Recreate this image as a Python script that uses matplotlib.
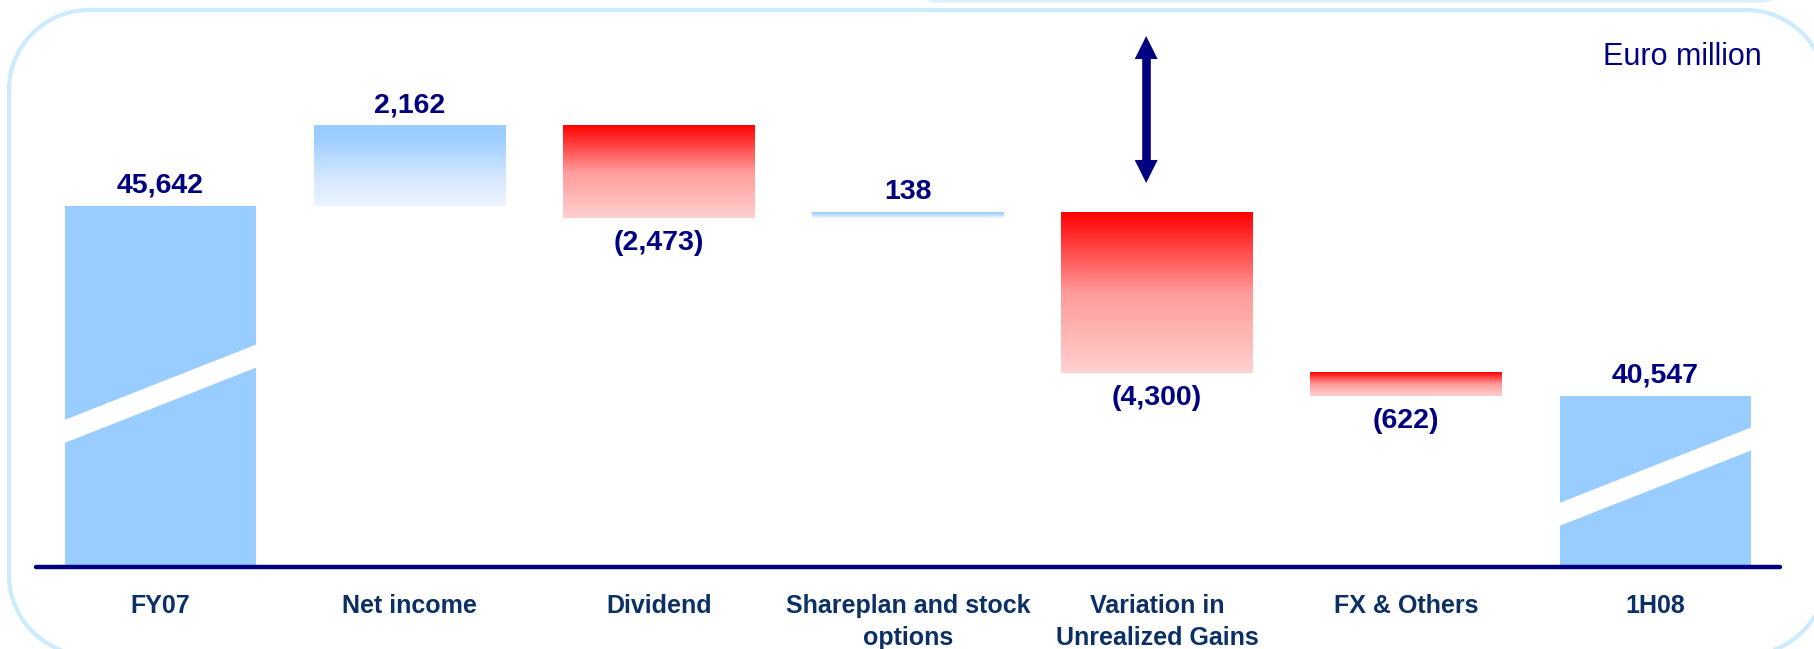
import numpy as np
import matplotlib.pyplot as plt
from matplotlib.colors import LinearSegmentedColormap
from matplotlib.patches import FancyBboxPatch, Polygon
from matplotlib.transforms import IdentityTransform

# data (Euro million)
categories = ['FY07', 'Net income', 'Dividend', 'Shareplan and stock\noptions',
              'Variation in\nUnrealized Gains', 'FX & Others', '1H08']
start_total = 45642
changes = [2162, -2473, 138, -4300, -622]
end_total = 40547
value_labels = ['45,642', '2,162', '(2,473)', '138', '(4,300)', '(622)', '40,547']

plt.rcParams['font.family'] = ['Liberation Sans', 'DejaVu Sans']

W, H = 1815, 649
fig = plt.figure(figsize=(W / 100, H / 100), dpi=100)
ax = fig.add_axes([36 / W, 1 - 567 / H, (1780 - 36) / W, (567 - 20) / H])
ax.patch.set_alpha(0)

navy = '#000080'
label_navy = '#0B3066'
light_blue = '#99CCFF'
bw = 0.77

blue_grad = LinearSegmentedColormap.from_list(
    'bg', [(0, '#99CCFF'), (0.18, '#9FCEFF'), (0.6, '#CFE5FF'), (1, '#EEF5FF')])
red_grad = LinearSegmentedColormap.from_list(
    'rg', [(0, '#FF0000'), (0.5, '#FF9A9A'), (1, '#FFD0D0')])
col = np.linspace(0, 1, 256).reshape(-1, 1)


def grad_bar(x, y0, y1, cmap):
    lo, hi = min(y0, y1), max(y0, y1)
    ax.imshow(col, extent=[x - bw / 2, x + bw / 2, lo, hi], origin='upper',
              cmap=cmap, aspect='auto', interpolation='bilinear', zorder=2)


# totals (broken bars starting from zero)
n = len(categories)
ax.bar(0, start_total, width=bw, color=light_blue, zorder=2)
ax.bar(n - 1, end_total, width=bw, color=light_blue, zorder=2)

level = start_total
tops, bottoms = [start_total], [0]
for i, d in enumerate(changes, start=1):
    new = level + d
    grad_bar(i, level, new, blue_grad if d > 0 else red_grad)
    tops.append(max(level, new))
    bottoms.append(min(level, new))
    level = new
tops.append(end_total)
bottoms.append(0)

# white break stripes across the total bars
rise, thick = 2078, 617
for x, c in [(0, 39570), (n - 1, 37344)]:
    l, r = x - bw / 2 - 0.01, x + bw / 2 + 0.01
    ax.add_patch(Polygon([(l, c - thick / 2), (r, c - thick / 2 + rise),
                          (r, c + thick / 2 + rise), (l, c + thick / 2)],
                         closed=True, facecolor='white', edgecolor='none', zorder=3))

# value labels
signs = [1] + [1 if d > 0 else -1 for d in changes] + [1]
for i, (lab, s) in enumerate(zip(value_labels, signs)):
    if s > 0:
        ax.annotate(lab, (i, tops[i]), xytext=(0, 14.5), textcoords='offset points',
                    ha='center', va='center', fontsize=20.5, fontweight='bold', color=navy)
    else:
        ax.annotate(lab, (i, bottoms[i]), xytext=(0, -18), textcoords='offset points',
                    ha='center', va='center', fontsize=20.5, fontweight='bold', color=navy)

# double arrow above the unrealized gains bar
ax_x, a_top, a_bot = 3.956, 50200, 46259
head_len, head_hw = 617, 0.046
ax.plot([ax_x, ax_x], [a_top - head_len + 40, a_bot + head_len - 40], color=navy,
        lw=6.2, solid_capstyle='butt', zorder=4)
ax.add_patch(Polygon([(ax_x, a_top), (ax_x - head_hw, a_top - head_len),
                      (ax_x + head_hw, a_top - head_len)],
                     closed=True, facecolor=navy, edgecolor='none', zorder=4))
ax.add_patch(Polygon([(ax_x, a_bot), (ax_x - head_hw, a_bot + head_len),
                      (ax_x + head_hw, a_bot + head_len)],
                     closed=True, facecolor=navy, edgecolor='none', zorder=4))

ax.set_xlim(-0.5, n - 0.5)
ax.set_ylim(35960, 50630)
ax.set_xticks(range(n))
ax.set_xticklabels(categories, fontsize=18, fontweight='bold', color=label_navy,
                   linespacing=1.4)
ax.tick_params(axis='x', length=0, pad=19.5)
ax.set_yticks([])
for s in ['top', 'left', 'right']:
    ax.spines[s].set_visible(False)
ax.spines['bottom'].set_color(navy)
ax.spines['bottom'].set_linewidth(3.2)
ax.spines['bottom'].set_capstyle('round')
ax.spines['bottom'].set_zorder(4)

fig.text(1762 / W, 1 - 57 / H, 'Euro million', ha='right', va='center',
         fontsize=22, color=navy)


# rounded frames drawn in output pixels (y measured from the top)
def rounded_rect(x0, y0, x1, y1, rad):
    pts = []
    corners = [(x1 - rad, y0 + rad, 90, 0), (x1 - rad, y1 - rad, 0, -90),
               (x0 + rad, y1 - rad, -90, -180), (x0 + rad, y0 + rad, 180, 90)]
    for cx, cy, a0, a1 in corners:
        t = np.radians(np.linspace(a0, a1, 40))
        pts += list(zip(cx + rad * np.cos(t), H - (cy - rad * np.sin(t))))
    return pts


fig.add_artist(Polygon(rounded_rect(9, 10, 1826, 655, 80), closed=True, fill=False,
                       edgecolor='#CCEBFD', linewidth=3, transform=IdentityTransform()))
fig.add_artist(Polygon(rounded_rect(917, -70, 1781, 1, 20), closed=True, fill=False,
                       edgecolor='#DDF1FD', linewidth=2.5, transform=IdentityTransform()))

fig.savefig('out.png', dpi=100)
